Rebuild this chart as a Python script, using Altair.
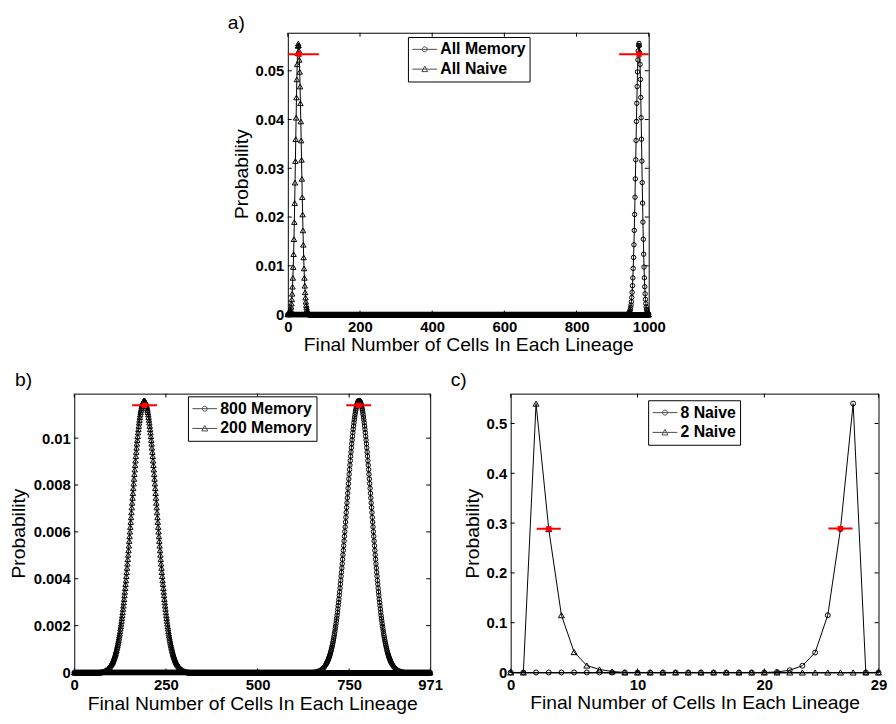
import altair as alt
import pandas as pd

FONT = "Liberation Sans"
XTITLE = "Final Number of Cells In Each Lineage"
YTITLE = "Probability"

# ---------------- panel a) ----------------
A_LABELS = ["All Memory", "All Naive"]
A_X_MAX = 1000
A_X_TICKS = [0, 200, 400, 600, 800, 1000]
A_Y_MAX = 0.0578
A_Y_TICKS = [0, 0.01, 0.02, 0.03, 0.04, 0.05]
A_NAIVE_X0 = 0          # values below start at x = 0, zero afterwards
A_NAIVE = [0.00003, 0.00005, 0.00009, 0.00014, 0.00022, 0.00033, 0.00050, 0.00075,
           0.00110, 0.00159, 0.00225, 0.00312, 0.00426, 0.00571, 0.00752, 0.00974,
           0.01238, 0.01546, 0.01897, 0.02286, 0.02706, 0.03148, 0.03597, 0.04037,
           0.04452, 0.04823, 0.05133, 0.05366, 0.05511, 0.05560, 0.05522, 0.05408,
           0.05224, 0.04977, 0.04677, 0.04334, 0.03961, 0.03570, 0.03174, 0.02783,
           0.02407, 0.02052, 0.01726, 0.01432, 0.01172, 0.00946, 0.00752, 0.00591,
           0.00457, 0.00349, 0.00263, 0.00195, 0.00143, 0.00103, 0.00074, 0.00052,
           0.00036, 0.00024, 0.00017, 0.00011, 0.00007, 0.00005]
A_MEMORY_X0 = 941       # values below start at x = 941, zero before
A_MEMORY = [0.00005, 0.00007, 0.00011, 0.00017, 0.00024, 0.00036, 0.00052, 0.00074,
            0.00103, 0.00143, 0.00195, 0.00263, 0.00349, 0.00457, 0.00591, 0.00752,
            0.00946, 0.01172, 0.01432, 0.01726, 0.02052, 0.02407, 0.02783, 0.03174,
            0.03570, 0.03961, 0.04334, 0.04677, 0.04977, 0.05224, 0.05408, 0.05522,
            0.05560, 0.05511, 0.05366, 0.05133, 0.04823, 0.04452, 0.04037, 0.03597,
            0.03148, 0.02706, 0.02286, 0.01897, 0.01546, 0.01238, 0.00974, 0.00752,
            0.00571, 0.00426, 0.00312, 0.00225, 0.00159, 0.00110, 0.00075, 0.00050,
            0.00033, 0.00022, 0.00014, 0.00009]
A_RED_X = [31, 973]
A_RED_Y = [0.0534, 0.0534]
A_RED_HALF = 55

# ---------------- panel b) ----------------
B_LABELS = ["800 Memory", "200 Memory"]
B_X_MAX = 971
B_X_TICKS = [0, 250, 500, 750, 971]
B_Y_MAX = 0.0119
B_Y_TICKS = [0, 0.002, 0.004, 0.006, 0.008, 0.01]
B_CENTER_800 = 777
B_CENTER_200 = 191
B_OFFSETS = list(range(0, 91)) + [92, 94, 96, 98, 100, 104, 108, 112, 116, 120]
B_PEAK = [0.01160, 0.01160, 0.01158, 0.01155, 0.01152, 0.01148, 0.01142, 0.01136, 0.01128, 0.01120,
          0.01111, 0.01101, 0.01090, 0.01078, 0.01066, 0.01052, 0.01038, 0.01024, 0.01008, 0.00992,
          0.00976, 0.00959, 0.00941, 0.00923, 0.00904, 0.00885, 0.00866, 0.00846, 0.00826, 0.00806,
          0.00786, 0.00765, 0.00745, 0.00724, 0.00704, 0.00683, 0.00662, 0.00642, 0.00621, 0.00601,
          0.00581, 0.00561, 0.00541, 0.00521, 0.00502, 0.00483, 0.00464, 0.00446, 0.00428, 0.00411,
          0.00393, 0.00377, 0.00360, 0.00344, 0.00329, 0.00313, 0.00299, 0.00285, 0.00271, 0.00257,
          0.00244, 0.00232, 0.00220, 0.00208, 0.00197, 0.00187, 0.00176, 0.00166, 0.00157, 0.00148,
          0.00139, 0.00131, 0.00123, 0.00116, 0.00109, 0.00102, 0.00095, 0.00089, 0.00083, 0.00078,
          0.00073, 0.00068, 0.00063, 0.00059, 0.00055, 0.00051, 0.00047, 0.00044, 0.00041, 0.00038,
          0.00035,
          0.00030, 0.00025, 0.00022, 0.00018, 0.00015, 0.00011, 0.00007, 0.00005, 0.00003, 0.00002]
B_RED_X = [776, 192]
B_RED_Y = [0.0114, 0.0114]
B_RED_HALF = 34

# ---------------- panel c) ----------------
C_LABELS = ["8 Naive", "2 Naive"]
C_X = list(range(30))
C_NAIVE8 = [0, 0, 0, 0, 0, 0, 0, 0, 0, 0,
            0, 0, 0, 0, 0, 0, 0, 0, 0, 0,
            0, 0.001, 0.0046, 0.0135, 0.040, 0.115, 0.288, 0.540, 0, 0]
C_NAIVE2 = [0, 0, 0.540, 0.288, 0.115, 0.041, 0.014, 0.006, 0.002, 0,
            0, 0, 0, 0, 0, 0, 0, 0, 0, 0,
            0, 0, 0, 0, 0, 0, 0, 0, 0, 0]
C_X_MAX = 29
C_X_TICKS = [0, 10, 20, 29]
C_Y_MAX = 0.56
C_Y_TICKS = [0, 0.1, 0.2, 0.3, 0.4, 0.5]
C_RED_X = [26.0, 3.0]
C_RED_Y = [0.289, 0.2885]
C_RED_HALF = 0.95

# legend symbols: line with a hollow marker on it
PATH_C = "M-1,0L2.125,0M0.875,0A0.3125,0.3125,0,1,1,0.25,0A0.3125,0.3125,0,1,1,0.875,0Z"
PATH_T = "M-1,0L2.125,0M0.5625,-0.375L0.9375,0.3125L0.1875,0.3125Z"


def series_df(name, xmax, pts):
    lo, hi = min(pts), max(pts)
    rows = list(pts.items())
    rows += [(x, 0.0) for x in range(0, xmax + 1) if x < lo or x > hi]
    df = pd.DataFrame(rows, columns=["x", "p"])
    df["s"] = name
    return df.sort_values("x")


def peak_points(center, offsets, vals):
    pts = {}
    for o, v in zip(offsets, vals):
        pts[center - o] = v
        pts[center + o] = v
    return pts


def anchor(ax, ay):
    # invisible layout anchor (keeps the panels where the reference has them)
    return alt.Chart(pd.DataFrame({"t": ["."]})).mark_text(
        opacity=0, fontSize=1, align="left", baseline="top"
    ).encode(x=alt.value(ax), y=alt.value(ay), text="t:N")


def panel(df, labels, xmax, xticks, ymax, yticks, w, h, red_x, red_y, red_half,
          tag, tag_x, tag_y, ytitle_x, xtitle_y, lx, ly, csize, tsize, anchors):
    circ, tri = labels
    xs = alt.Scale(domain=[0, xmax], nice=False, zero=False)
    ys = alt.Scale(domain=[0, ymax], nice=False, zero=False)
    xaxis = alt.Axis(values=xticks, format="d", title=XTITLE, titleX=w / 2,
                     titleY=xtitle_y, titleBaseline="alphabetic", labelPadding=5)
    yaxis = alt.Axis(values=yticks, format="~g", title=YTITLE, titleX=ytitle_x,
                     titleY=h / 2, titleBaseline="middle", titleAngle=270, labelPadding=4)

    def X(f):
        return alt.X(f, scale=xs, axis=xaxis)

    def Y(f):
        return alt.Y(f, scale=ys, axis=yaxis)

    base = alt.Chart(df)
    line = base.mark_line(color="black", strokeWidth=1).encode(X("x:Q"), Y("p:Q"), detail="s:N")
    pc = base.transform_filter(alt.datum.s == circ).mark_point(
        shape="circle", filled=False, color="black", size=csize, strokeWidth=1, opacity=1
    ).encode(X("x:Q"), Y("p:Q"))
    pt = base.transform_filter(alt.datum.s == tri).mark_point(
        shape="triangle-up", filled=False, color="black", size=tsize, strokeWidth=1, opacity=1
    ).encode(X("x:Q"), Y("p:Q"))

    rd = pd.DataFrame({"x": red_x, "p": red_y,
                       "x1": [v - red_half for v in red_x],
                       "x2": [v + red_half for v in red_x]})
    rr = alt.Chart(rd).mark_rule(color="red", strokeWidth=2, clip=True).encode(
        X("x1:Q"), Y("p:Q"), x2="x2:Q")
    rs = alt.Chart(rd).mark_square(color="red", size=30, opacity=1).encode(X("x:Q"), Y("p:Q"))

    tx = alt.Chart(pd.DataFrame({"x": xticks}))
    ty = alt.Chart(pd.DataFrame({"p": yticks}))
    tick_b = tx.mark_rule(color="black", strokeWidth=1).encode(
        X("x:Q"), y=alt.value(h), y2=alt.value(h - 4))
    tick_t = tx.mark_rule(color="black", strokeWidth=1).encode(
        X("x:Q"), y=alt.value(0), y2=alt.value(4))
    tick_l = ty.mark_rule(color="black", strokeWidth=1).encode(
        Y("p:Q"), x=alt.value(0), x2=alt.value(4))
    tick_r = ty.mark_rule(color="black", strokeWidth=1).encode(
        Y("p:Q"), x=alt.value(w), x2=alt.value(w - 4))

    lab = alt.Chart(pd.DataFrame({"t": [tag]})).mark_text(
        align="left", baseline="alphabetic", font=FONT, fontSize=19.5, color="black"
    ).encode(x=alt.value(tag_x), y=alt.value(tag_y), text="t:N")

    leg = alt.Chart(pd.DataFrame({"s": [circ, tri]})).transform_filter("false").mark_point(
        filled=False, color="black", size=256, strokeWidth=1
    ).encode(shape=alt.Shape("s:N",
                             scale=alt.Scale(domain=[circ, tri], range=[PATH_C, PATH_T]),
                             legend=alt.Legend(title=None, orient="none", legendX=lx, legendY=ly,
                                               direction="vertical", strokeColor="black",
                                               fillColor="white", padding=4, cornerRadius=0,
                                               labelFont=FONT, labelFontSize=16,
                                               labelFontWeight="bold", labelColor="black",
                                               labelOffset=11.7, rowPadding=3, symbolSize=256,
                                               symbolStrokeWidth=1, symbolStrokeColor="black",
                                               symbolFillColor="transparent", symbolOffset=0,
                                               labelBaseline="middle")))

    layers = [line, pc, pt, rr, rs, tick_b, tick_t, tick_l, tick_r, lab, leg]
    layers += [anchor(ax, ay) for ax, ay in anchors]
    return alt.layer(*layers).properties(width=w, height=h)


# data frames
df_a = pd.concat([
    series_df(A_LABELS[0], A_X_MAX, {A_MEMORY_X0 + i: v for i, v in enumerate(A_MEMORY)}),
    series_df(A_LABELS[1], A_X_MAX, {A_NAIVE_X0 + i: v for i, v in enumerate(A_NAIVE)}),
])
df_b = pd.concat([
    series_df(B_LABELS[0], B_X_MAX, peak_points(B_CENTER_800, B_OFFSETS, B_PEAK)),
    series_df(B_LABELS[1], B_X_MAX, peak_points(B_CENTER_200, B_OFFSETS, B_PEAK)),
])
df_c = pd.concat([
    pd.DataFrame({"x": C_X, "p": C_NAIVE8, "s": C_LABELS[0]}),
    pd.DataFrame({"x": C_X, "p": C_NAIVE2, "s": C_LABELS[1]}),
])

HA, HB = 285, 282

pa = panel(df_a, A_LABELS, A_X_MAX, A_X_TICKS, A_Y_MAX, A_Y_TICKS, 365, HA,
           A_RED_X, A_RED_Y, A_RED_HALF, "a)", -60.7, -4, -47, 36, 121.5, 4.3, 20, 30,
           anchors=[(-61, -20), (0, HA + 40)])
pb = panel(df_b, B_LABELS, B_X_MAX, B_X_TICKS, B_Y_MAX, B_Y_TICKS, 360, HB,
           B_RED_X, B_RED_Y, B_RED_HALF, "b)", -60, -8, -56, 37, 115, 2.7, 20, 30,
           anchors=[(-65.3, -24), (375, 0)])
pc_ = panel(df_c, C_LABELS, C_X_MAX, C_X_TICKS, C_Y_MAX, C_Y_TICKS, 372, HB,
            C_RED_X, C_RED_Y, C_RED_HALF, "c)", -60.7, -8, -38.7, 36.5, 139, 6.7, 25, 36,
            anchors=[(-62, -24)])

spacer = alt.Chart(pd.DataFrame({"v": [0]})).mark_point(opacity=0).encode(
    x=alt.value(0), y=alt.value(0)).properties(
    width=153.2, height=1, view=alt.ViewBackground(stroke="transparent"))

row1 = alt.hconcat(spacer, pa, spacing=0).resolve_scale(shape="independent")
row2 = alt.hconcat(pb, pc_, spacing=2.4).resolve_scale(shape="independent")

chart = alt.vconcat(row1, row2, spacing=13).resolve_scale(shape="independent").properties(
    padding=0
).configure_view(
    stroke="black", strokeWidth=1
).configure_axis(
    labelFont=FONT, labelFontSize=15, labelFontWeight="bold", labelColor="black",
    titleFont=FONT, titleFontSize=19.5, titleFontWeight="normal", titleColor="black",
    grid=False, ticks=False, tickSize=0, domain=False, labelFlush=False, labelOverlap=False
)

chart.save("out.html", embed_options={"renderer": "svg", "actions": False})
